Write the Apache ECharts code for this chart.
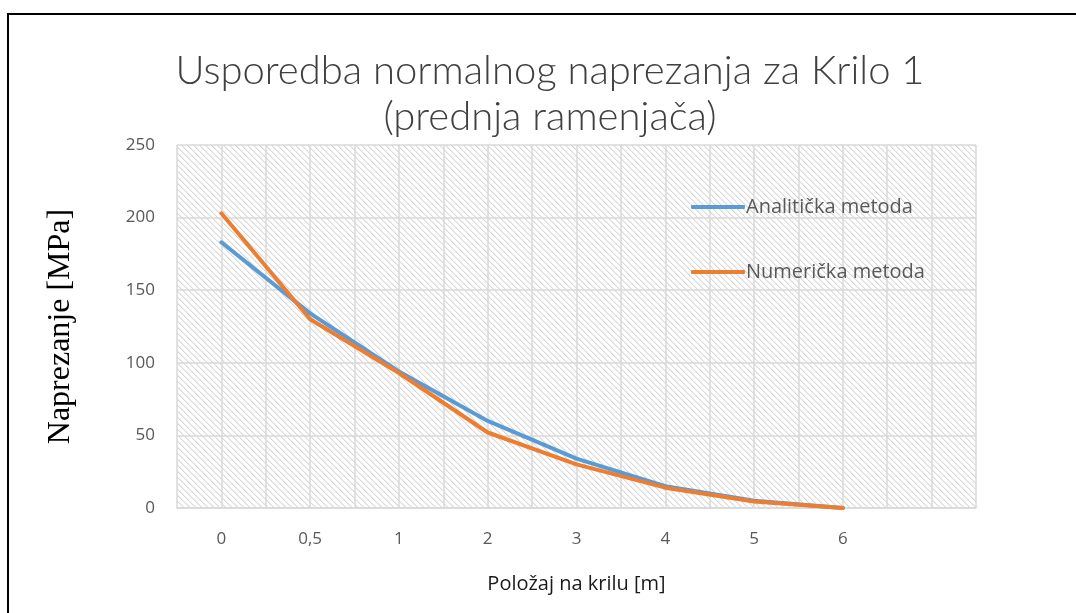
<!DOCTYPE html>
<html>
<head>
<meta charset="utf-8">
<script src="https://cdn.jsdelivr.net/npm/echarts@6/dist/echarts.min.js"></script>
<style>
  html, body { margin: 0; padding: 0; background: #fff; }
  #chart { width: 1076px; height: 613px; }
</style>
</head>
<body>
<div id="chart"></div>
<script>
// Položaj na krilu [m] — category labels (last slot left empty)
const positions = ['0', '0,5', '1', '2', '3', '4', '5', '6', ''];
// Normalno naprezanje [MPa]
const analyticValues = [183, 134, 94, 60, 34, 15, 5, 0];
const numericValues  = [203, 130, 93, 52, 30, 14, 4.5, 0];
const yTicks = { min: 0, max: 250, step: 50 };

// Diagonal hatch fill for the plot area
function hatchTile() {
  const size = 6;
  const c = document.createElement('canvas');
  c.width = size; c.height = size;
  const ctx = c.getContext('2d');
  ctx.fillStyle = '#ffffff';
  ctx.fillRect(0, 0, size, size);
  for (let y = 0; y < size; y++) {
    for (let x = 0; x < size; x++) {
      const d = ((x - y) % size + size) % size;
      if (d === 0) { ctx.fillStyle = '#d9d9d9'; ctx.fillRect(x, y, 1, 1); }
      if (d === 1) { ctx.fillStyle = '#ededed'; ctx.fillRect(x, y, 1, 1); }
    }
  }
  return c;
}

const chart = echarts.init(document.getElementById('chart'), null, { renderer: 'canvas' });
const sansFont = '"Open Sans", Lato, sans-serif';

chart.setOption({
  backgroundColor: '#ffffff',
  animation: false,
  title: {
    text: 'Usporedba normalnog naprezanja za Krilo 1\n(prednja ramenjača)',
    left: 545,
    textAlign: 'center',
    top: 43,
    textStyle: {
      fontFamily: 'Lato, sans-serif',
      fontWeight: 300,
      fontSize: 40,
      lineHeight: 46,
      color: '#404040'
    }
  },
  graphic: [{
    type: 'rect',
    shape: { x: 8, y: 14, width: 1200, height: 800 },
    style: { fill: null, stroke: '#000000', lineWidth: 2 },
    silent: true,
    z: 100
  }],
  legend: {
    orient: 'vertical',
    left: 686,
    top: 192,
    itemGap: 45,
    itemWidth: 54,
    itemHeight: 4,
    icon: 'roundRect',
    textStyle: { fontFamily: sansFont, fontSize: 20, color: '#595959', padding: [0, 0, 0, -4] },
    data: ['Analitička metoda', 'Numerička metoda']
  },
  grid: {
    left: 177,
    right: 100,
    top: 145,
    bottom: 105,
    show: true,
    borderWidth: 0,
    backgroundColor: { image: hatchTile(), repeat: 'repeat' }
  },
  xAxis: [{
    type: 'category',
    data: positions,
    boundaryGap: true,
    name: 'Položaj na krilu [m]',
    nameLocation: 'middle',
    nameGap: 66,
    nameTextStyle: { fontFamily: sansFont, fontSize: 20, color: '#1a1a1a' },
    axisLine: { show: true, lineStyle: { color: '#d9d9d9', width: 1.5 } },
    axisTick: { show: false },
    axisLabel: { fontFamily: sansFont, fontSize: 17, color: '#595959', margin: 23 },
    splitLine: { show: false }
  }, {
    // half-step vertical gridlines
    type: 'value',
    min: 0,
    max: positions.length * 2,
    interval: 1,
    position: 'bottom',
    axisLine: { show: false },
    axisTick: { show: false },
    axisLabel: { show: false },
    splitLine: { show: true, lineStyle: { color: '#d9d9d9', width: 1.5 } }
  }],
  yAxis: {
    type: 'value',
    min: yTicks.min,
    max: yTicks.max,
    interval: yTicks.step,
    name: 'Naprezanje [MPa]',
    nameLocation: 'middle',
    nameGap: 100,
    nameTextStyle: { fontFamily: '"Liberation Serif", "Times New Roman", serif', fontSize: 32, color: '#000000' },
    axisLine: { show: false },
    axisTick: { show: false },
    axisLabel: { fontFamily: sansFont, fontSize: 17, color: '#595959', margin: 22 },
    splitLine: { show: true, lineStyle: { color: '#d9d9d9', width: 1.5 } }
  },
  series: [{
    name: 'Analitička metoda',
    type: 'line',
    xAxisIndex: 0,
    data: analyticValues,
    symbol: 'none',
    lineStyle: { color: '#5B9BD5', width: 4, cap: 'round', join: 'round' },
    itemStyle: { color: '#5B9BD5' },
    z: 3
  }, {
    name: 'Numerička metoda',
    type: 'line',
    xAxisIndex: 0,
    data: numericValues,
    symbol: 'none',
    lineStyle: { color: '#ED7D31', width: 4, cap: 'round', join: 'round' },
    itemStyle: { color: '#ED7D31' },
    z: 4
  }]
});
</script>
</body>
</html>
